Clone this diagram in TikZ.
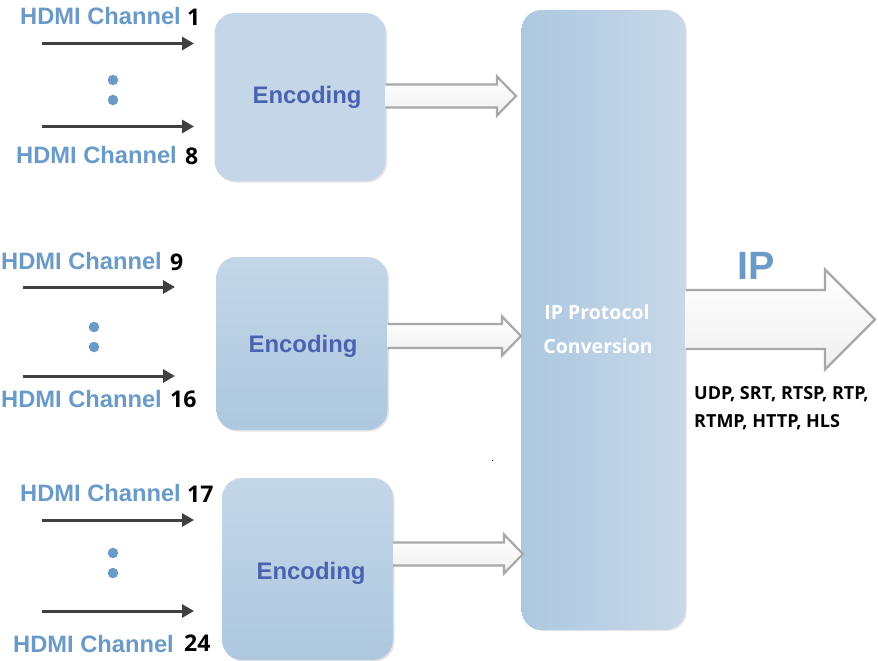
\documentclass[tikz,border=0pt]{standalone}
\usepackage{fontspec}
\setmainfont{Liberation Sans}
\newfontfamily\numfont{Open Sans}
\usetikzlibrary{arrows.meta,shadows,calc}
\definecolor{hdmi}{HTML}{6A9BC8}
\definecolor{enc}{HTML}{4B62B0}
\definecolor{boxlight}{HTML}{C4D6E8}
\definecolor{boxdark}{HTML}{ADC8DF}
\definecolor{wire}{HTML}{404040}
\definecolor{edge}{HTML}{A8A8A8}
\tikzset{
  encbox/.style={rounded corners=20pt,inner sep=0pt,minimum width=171pt,
    drop shadow={shadow xshift=1.5pt,shadow yshift=-1.5pt,fill=black!40,opacity=.25}},
  chan/.style={anchor=base west,inner sep=0pt,text=hdmi,font=\fontsize{23.7}{28}\selectfont\bfseries},
  num/.style={anchor=base west,inner sep=0pt,text=black,font=\fontsize{23}{27}\numfont\bfseries},
  enctext/.style={inner sep=0pt,text=enc,font=\fontsize{23.9}{28}\selectfont\bfseries},
  wirearrow/.style={draw=wire,line width=3pt,-{Triangle[length=12pt,width=13pt]}},
  dotmark/.style={circle,fill=hdmi,inner sep=0pt,minimum size=10.5pt},
  proto/.style={inner sep=0pt,anchor=base west,font=\fontsize{19.5}{23}\numfont\bfseries},
  protosmall/.style={proto,text=black,font=\fontsize{18}{22}\numfont\bfseries},
}
% start, tip, half body, head length, half head
\newcommand{\blockarrow}[5]{
  \fill[top color=white,bottom color=black!6,draw=none]
    ($(#1)+(0,-#3)$) -- ($(#2)+(-#4,-#3)$) -- ($(#2)+(-#4,-#5)$) -- (#2)
    -- ($(#2)+(-#4,#5)$) -- ($(#2)+(-#4,#3)$) -- ($(#1)+(0,#3)$) -- cycle;
  \draw[edge,line width=2.2pt,line join=miter]
    ($(#1)+(0,-#3)$) -- ($(#2)+(-#4,-#3)$) -- ($(#2)+(-#4,-#5)$) -- (#2)
    -- ($(#2)+(-#4,#5)$) -- ($(#2)+(-#4,#3)$) -- ($(#1)+(0,#3)$);
}
\begin{document}
\begin{tikzpicture}[x=1pt,y=-1pt]
\useasboundingbox (0,0) rectangle (878,661);
\fill[white] (0,0) rectangle (878,661);

% encoder boxes
\node[encbox,minimum height=168pt,fill=boxlight] (enc1) at (300,97) {};
\node[encbox,minimum height=173pt,top color=boxlight,bottom color=boxdark] (enc2) at (302,343.5) {};
\node[encbox,minimum height=182pt,top color=boxlight,bottom color=boxdark] (enc3) at (307.5,569) {};

% conversion box
\node[rounded corners=20pt,inner sep=0pt,minimum width=164pt,minimum height=620pt,
  left color=boxdark,right color=boxlight!95!white,
  drop shadow={shadow xshift=1.5pt,shadow yshift=-1pt,fill=black!40,opacity=.2}] (conv) at (603.5,320) {};

% block arrows
\coordinate (tip1) at (516,96);
\coordinate (tip2) at (521,336);
\coordinate (tip3) at (523,554);
\coordinate (tip4) at (875,319.5);
\blockarrow{enc1.east |- tip1}{tip1}{11.5}{19}{19.5}
\blockarrow{enc2.east |- tip2}{tip2}{12}{19}{19.5}
\blockarrow{enc3.east |- tip3}{tip3}{11.5}{19}{19.5}
\blockarrow{conv.east |- tip4}{tip4}{29.5}{50}{50}

% encoder labels
\node[enctext] (lab1) at (307,97) {Encoding};
\node[enctext] (lab2) at (303,346.5) {Encoding};
\node[enctext] (lab3) at (311,573.5) {Encoding};

% conversion label
\node[proto,text=white,anchor=base] (pc1) at (597,319) {IP Protocol};
\node[proto,text=white,anchor=base] (pc2) at (598,353) {Conversion};

% output labels
\node[inner sep=0pt,text=hdmi,font=\fontsize{39.5}{44}\selectfont\bfseries] (ip) at (756.5,266) {IP};
\node[protosmall] (udp) at (694,399) {UDP, SRT, RTSP, RTP,};
\node[protosmall] (rtmp) at (694,427) {RTMP, HTTP, HLS};

% channel labels
\node[chan] (c1) at (20,25) {HDMI Channel}; \node[num] (n1) at (187,26) {1};
\node[chan] (c8) at (16,163) {HDMI Channel}; \node[num] (n8) at (185,164) {8};
\node[chan] (c9) at (1,269) {HDMI Channel}; \node[num] (n9) at (170,270) {9};
\node[chan] (c16) at (1,407) {HDMI Channel}; \node[num] (n16) at (170,407) {16};
\node[chan] (c17) at (20,501) {HDMI Channel}; \node[num] (n17) at (187,502) {17};
\node[chan] (c24) at (13,652) {HDMI Channel}; \node[num] (n24) at (184,651) {24};

% channel wires
\coordinate (w1a) at (42,43.5);  \coordinate (w1b) at (194,43.5);
\coordinate (w8a) at (42,126.5); \coordinate (w8b) at (194,126.5);
\coordinate (w9a) at (23,287);   \coordinate (w9b) at (175,287);
\coordinate (w16a) at (23,376);  \coordinate (w16b) at (175,376);
\coordinate (w17a) at (42,520);  \coordinate (w17b) at (194,520);
\coordinate (w24a) at (42,611);  \coordinate (w24b) at (194,611);
\draw[wirearrow] (w1a) -- (w1b);
\draw[wirearrow] (w8a) -- (w8b);
\draw[wirearrow] (w9a) -- (w9b);
\draw[wirearrow] (w16a) -- (w16b);
\draw[wirearrow] (w17a) -- (w17b);
\draw[wirearrow] (w24a) -- (w24b);

% dots
\node[dotmark] (d1) at (113,80) {};
\node[dotmark] (d2) at (113,100) {};
\node[dotmark] (d3) at (94,327) {};
\node[dotmark] (d4) at (94,347) {};
\node[dotmark] (d5) at (113,553) {};
\node[dotmark] (d6) at (113,573) {};
\fill[black] (491.5,459.5) rectangle (493,461);
\end{tikzpicture}
\end{document}
